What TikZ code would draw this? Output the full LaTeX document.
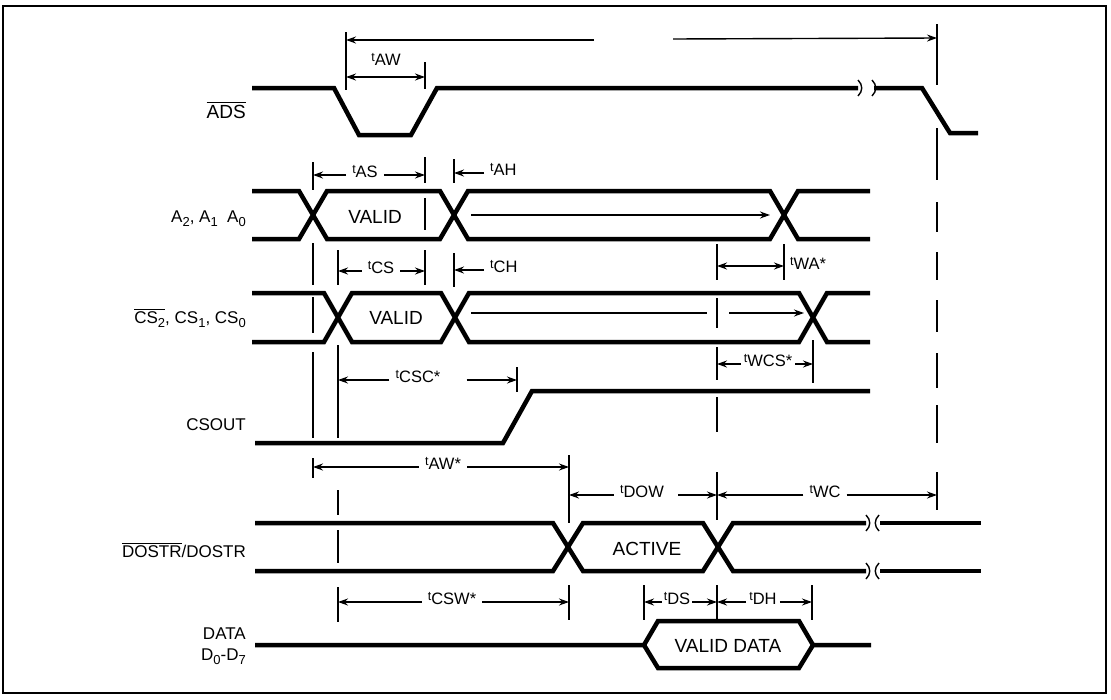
\documentclass[tikz,border=0pt]{standalone}
\usepackage{amsmath}
\usepackage{fontspec}
\setmainfont{Liberation Sans}
\usepackage{tikz}
\usetikzlibrary{arrows.meta}

\newcommand{\tm}[1]{\raisebox{.5ex}{\fontsize{12.5}{12.5}\selectfont t}#1}
\newcommand{\sub}[1]{\raisebox{-.4ex}{\fontsize{13}{13}\selectfont #1}}

\begin{document}
\begin{tikzpicture}[x=1pt, y=-1pt,
    every node/.style={inner sep=0pt, font=\fontsize{16.5}{20}\selectfont},
    sig/.style={line width=4.5pt},
    tickline/.style={line width=1.4pt},
    dimline/.style={line width=1.4pt, -{Stealth[length=10pt, width=7pt]}},
    dimboth/.style={dimline, {Stealth[length=10pt, width=7pt]}-{Stealth[length=10pt, width=7pt]}},
    brk/.style={line width=1.4pt},
    signame/.style={anchor=east, align=right, font=\fontsize{17}{21}\selectfont},
    blocktext/.style={font=\fontsize{19}{20}\selectfont},
    tlabel/.style={anchor=mid, inner xsep=6pt}
]

% Frame
\useasboundingbox (0,0) rectangle (1111,699);
\draw[line width=1.8pt] (3,6) rectangle (1106,693);

% Signal names
\node[signame, font=\fontsize{19}{21}\selectfont] (nADS) at (246,110) {$\overline{\text{ADS}}$};
\node[signame] (nA) at (246,219) {A\sub{2}, A\sub{1}\ \ A\sub{0}};
\node[signame] (nCS) at (246,318) {$\overline{\text{CS\sub{2}}}$, CS\sub{1}, CS\sub{0}};
\node[signame] (nCSOUT) at (246,425) {CSOUT};
\node[signame] (nDOSTR) at (246,550) {$\overline{\text{DOSTR}}$/DOSTR};
\node[signame] (nDATA) at (246,646) {DATA\\D\sub{0}-D\sub{7}};

% ADS
\draw[sig] (252,88) -- (334,88) -- (359,135) -- (411,135) -- (437,88) -- (858,88);
\draw[sig] (874,88) -- (922,88) -- (950,133) -- (978,133);
\draw[brk] (858,80) .. controls (863,85) and (863,91) .. (858,96);
\draw[brk] (872,80) .. controls (877,85) and (877,91) .. (872,96);

% A2, A1, A0
\draw[sig] (252,191) -- (299,191) -- (327,239) -- (440,239) -- (468,191) -- (770,191) -- (798,239) -- (870,239);
\draw[sig] (252,239) -- (299,239) -- (327,191) -- (440,191) -- (468,239) -- (770,239) -- (798,191) -- (870,191);
\node[blocktext] (vA) at (375,217) {VALID};

% CS2, CS1, CS0
\draw[sig] (252,293) -- (324,293) -- (352,342) -- (441,342) -- (469,293) -- (799,293) -- (827,342) -- (870,342);
\draw[sig] (252,342) -- (324,342) -- (352,293) -- (441,293) -- (469,342) -- (799,342) -- (827,293) -- (870,293);
\node[blocktext] (vCS) at (396,318) {VALID};

% CSOUT
\draw[sig] (255,443) -- (503,443) -- (532,391) -- (870,391);

% DOSTR
\draw[sig] (255,523) -- (553,523) -- (583,571) -- (703,571) -- (733,523) -- (866,523);
\draw[sig] (255,571) -- (553,571) -- (583,523) -- (703,523) -- (733,571) -- (866,571);
\draw[sig] (880,523) -- (981,523);
\draw[sig] (880,571) -- (981,571);
\draw[brk] (866,515) .. controls (871,520) and (871,526) .. (866,531);
\draw[brk] (879,515) .. controls (874,520) and (874,526) .. (879,531);
\draw[brk] (866,563) .. controls (871,568) and (871,574) .. (866,579);
\draw[brk] (879,563) .. controls (874,568) and (874,574) .. (879,579);
\node[blocktext] (vACT) at (647,549) {ACTIVE};

% DATA
\draw[sig] (255,645) -- (644,645) -- (658,621) -- (799,621) -- (813,645) -- (871,645);
\draw[sig] (644,645) -- (658,668) -- (799,668) -- (813,645);
\node[blocktext] (vDATA) at (728,646) {VALID DATA};

% Reference lines
\draw[tickline] (313,162) -- (313,190) (313,243) -- (313,285) (313,297) -- (313,333) (313,352) -- (313,438) (313,458) -- (313,478);
\draw[tickline] (338,250) -- (338,285) (338,345) -- (338,438) (338,490) -- (338,515) (338,530) -- (338,563) (338,587) -- (338,622);
\draw[tickline] (346,32) -- (346,90);
\draw[tickline] (425,62) -- (425,89) (425,157) -- (425,183) (425,198) -- (425,230) (425,250) -- (425,285);
\draw[tickline] (454,159) -- (454,183) (454,253) -- (454,287);
\draw[tickline] (517,367) -- (517,392);
\draw[tickline] (569,455) -- (569,523) (569,585) -- (569,620);
\draw[tickline] (644,585) -- (644,620);
\draw[tickline] (717,244) -- (717,280) (717,298) -- (717,328) (717,347) -- (717,380) (717,397) -- (717,432) (717,472) -- (717,520) (717,585) -- (717,620);
\draw[tickline] (784,244) -- (784,280);
\draw[tickline] (813,340) -- (813,383);
\draw[tickline] (812,585) -- (812,620);
\draw[tickline] (937,24) -- (937,85) (937,128) -- (937,180) (937,202) -- (937,232) (937,252) -- (937,280) (937,300) -- (937,332) (937,353) -- (937,388) (937,405) -- (937,443) (937,472) -- (937,510);

% Arrows inside the buses
\coordinate (aArrA) at (471,215);
\coordinate (aArrB) at (770,215);
\draw[dimline] (aArrA) -- (aArrB);
\coordinate (csArrA) at (471,313);
\coordinate (csArrB) at (707,313);
\coordinate (csArrC) at (729,313);
\coordinate (csArrD) at (804,313);
\draw[tickline] (csArrA) -- (csArrB);
\draw[dimline] (csArrC) -- (csArrD);

% Cycle arrow
\coordinate (cycL) at (346,40);
\coordinate (cycA) at (594,40);
\coordinate (cycB) at (673,39);
\coordinate (cycR) at (937,38);
\draw[dimline] (cycA) -- (cycL);
\draw[dimline] (cycB) -- (cycR);

% tAW
\node[tlabel] (tAW) at (386,63) {\tm{AW}};
\coordinate (awL) at (346,77);
\coordinate (awR) at (425,77);
\draw[dimboth] (awL) -- (awR);

% tAS, tAH
\node[tlabel] (tAS) at (365,175) {\tm{AS}};
\coordinate (asL) at (313,175);
\coordinate (asR) at (425,175);
\draw[dimline] (tAS.mid west) -- (asL);
\draw[dimline] (tAS.mid east) -- (asR);
\node[tlabel, anchor=mid west] (tAH) at (484,173) {\tm{AH}};
\coordinate (ahT) at (454,173);
\draw[dimline] (tAH.mid west) -- (ahT);

% tCS, tCH
\node[tlabel] (tCS) at (381,271) {\tm{CS}};
\coordinate (csL) at (338,271);
\coordinate (csR) at (425,271);
\draw[dimline] (tCS.mid west) -- (csL);
\draw[dimline] (tCS.mid east) -- (csR);
\node[tlabel, anchor=mid west] (tCH) at (484,270) {\tm{CH}};
\coordinate (chT) at (454,270);
\draw[dimline] (tCH.mid west) -- (chT);

% tWA*
\coordinate (waL) at (717,266);
\coordinate (waR) at (784,266);
\draw[dimboth] (waL) -- (waR);
\node[tlabel, anchor=mid west, inner xsep=3pt] (tWAs) at (787,267) {\tm{WA*}};

% tWCS*
\node[tlabel, inner xsep=3pt] (tWCSs) at (768,364) {\tm{WCS*}};
\coordinate (wcsL) at (717,364);
\coordinate (wcsR) at (813,364);
\draw[dimline] (tWCSs.mid west) -- (wcsL);
\draw[dimline] (tWCSs.mid east) -- (wcsR);

% tCSC*
\node[tlabel] (tCSCs) at (418,380) {\tm{CSC*}};
\coordinate (cscL) at (338,380);
\coordinate (cscR) at (517,380);
\draw[dimline] (tCSCs.mid west) -- (cscL);
\draw[dimline] ([xshift=20pt]tCSCs.mid east) -- (cscR);

% tAW*
\node[tlabel] (tAWs) at (443,467) {\tm{AW*}};
\coordinate (awsL) at (313,467);
\coordinate (awsR) at (569,467);
\draw[dimline] (tAWs.mid west) -- (awsL);
\draw[dimline] (tAWs.mid east) -- (awsR);

% tDOW, tWC
\node[tlabel] (tDOW) at (642,495) {\tm{DOW}};
\coordinate (dowL) at (569,495);
\coordinate (dowR) at (717,495);
\draw[dimline] (tDOW.mid west) -- (dowL);
\draw[dimline] ([xshift=8pt]tDOW.mid east) -- (dowR);
\node[tlabel] (tWC) at (825,495) {\tm{WC}};
\coordinate (wcL) at (717,495);
\coordinate (wcR) at (937,495);
\draw[dimline] (tWC.mid west) -- (wcL);
\draw[dimline] (tWC.mid east) -- (wcR);

% tCSW*, tDS, tDH
\node[tlabel] (tCSWs) at (452,602) {\tm{CSW*}};
\coordinate (cswL) at (338,602);
\coordinate (cswR) at (569,602);
\draw[dimline] (tCSWs.mid west) -- (cswL);
\draw[dimline] (tCSWs.mid east) -- (cswR);
\node[tlabel, inner xsep=2pt] (tDS) at (677,602) {\tm{DS}};
\coordinate (dsL) at (644,602);
\coordinate (dsR) at (717,602);
\draw[dimline] (tDS.mid west) -- (dsL);
\draw[dimline] (tDS.mid east) -- (dsR);
\node[tlabel, inner xsep=3pt] (tDH) at (763,602) {\tm{DH}};
\coordinate (dhL) at (717,602);
\coordinate (dhR) at (812,602);
\draw[dimline] (tDH.mid west) -- (dhL);
\draw[dimline] (tDH.mid east) -- (dhR);

\end{tikzpicture}
\end{document}
